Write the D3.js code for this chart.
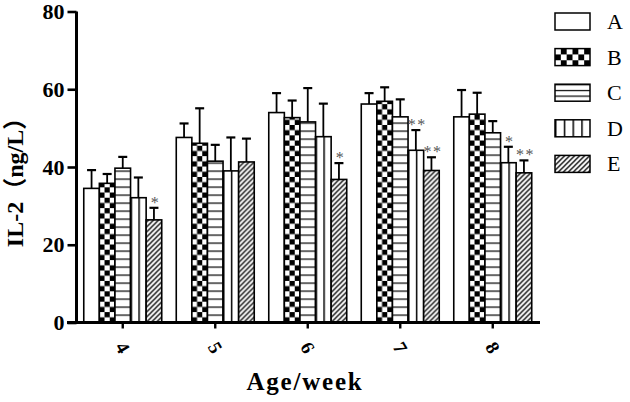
<!DOCTYPE html>
<html>
<head>
<meta charset="utf-8">
<script src="https://cdn.jsdelivr.net/npm/d3@7"></script>
<style>
  html, body { margin: 0; padding: 0; background: #fff; }
  svg { display: block; }
</style>
</head>
<body>
<div id="chart"></div>
<script>
// ---- data ----
const weeks = ["4", "5", "6", "7", "8"];
const groups = ["A", "B", "C", "D", "E"];
const yTicks = [0, 20, 40, 60, 80];

const meanA = [34.5, 47.6, 54.0, 56.2, 52.9];
const meanB = [35.8, 46.1, 52.7, 56.9, 53.6];
const meanC = [39.7, 41.5, 51.6, 52.9, 48.8];
const meanD = [32.1, 39.0, 47.8, 44.3, 41.1];
const meanE = [26.4, 41.3, 36.8, 39.1, 38.5];

const sdA = [4.7, 3.6, 5.0, 2.8, 6.9];
const sdB = [2.4, 9.0, 4.4, 3.6, 5.5];
const sdC = [2.9, 4.2, 8.7, 4.5, 3.0];
const sdD = [5.2, 8.6, 8.5, 5.2, 4.1];
const sdE = [3.1, 6.0, 4.2, 3.4, 3.2];

const sigA = ["", "", "", "", ""];
const sigB = ["", "", "", "", ""];
const sigC = ["", "", "", "", ""];
const sigD = ["", "", "", "**", "*"];
const sigE = ["*", "", "*", "**", "**"];

const yTitle = "IL-2（ng/L）";
const xTitle = "Age/week";

// ---- build table ----
const means = [meanA, meanB, meanC, meanD, meanE];
const sds = [sdA, sdB, sdC, sdD, sdE];
const sigs = [sigA, sigB, sigC, sigD, sigE];
const rows = [];
weeks.forEach((w, i) => {
  groups.forEach((g, j) => {
    rows.push({ week: w, group: g, gi: j, wi: i, mean: means[j][i], sd: sds[j][i], sig: sigs[j][i] });
  });
});

// ---- layout ----
const W = 630, H = 402;
const serif = "'Liberation Serif', 'Times New Roman', serif";
const svg = d3.select("#chart").append("svg").attr("width", W).attr("height", H);

const x = d3.scaleBand().domain(weeks).range([76.5, 539]).paddingInner(0.157).paddingOuter(0.0785);
const xs = d3.scaleBand().domain(groups).range([0, x.bandwidth()]);
const y = d3.scaleLinear().domain([0, 80]).range([322.5, 11.5]);

const defs = svg.append("defs");

// pattern factories (tile origin aligned to given x, y)
function makePattern(id, kind, ox, oy, bw, bh) {
  const p = defs.append("pattern").attr("id", id).attr("patternUnits", "userSpaceOnUse");
  if (kind === "B") {
    const s = bw / 3;
    p.attr("x", ox).attr("y", oy).attr("width", 2 * s).attr("height", 2 * s);
    p.append("rect").attr("width", 2 * s).attr("height", 2 * s).attr("fill", "#fff");
    p.append("rect").attr("x", s).attr("y", 0).attr("width", s).attr("height", s).attr("fill", "#000");
    p.append("rect").attr("x", 0).attr("y", s).attr("width", s).attr("height", s).attr("fill", "#000");
  } else if (kind === "C") {
    const s = bh;
    p.attr("x", ox).attr("y", oy).attr("width", 10).attr("height", s);
    p.append("rect").attr("width", 10).attr("height", s).attr("fill", "#fff");
    p.append("line").attr("x1", 0).attr("x2", 10).attr("y1", 0).attr("y2", 0).attr("stroke", "#000").attr("stroke-width", 2.4);
  } else if (kind === "D") {
    const s = bw;
    p.attr("x", ox).attr("y", oy).attr("width", s).attr("height", 10);
    p.append("rect").attr("width", s).attr("height", 10).attr("fill", "#fff");
    p.append("line").attr("x1", 0).attr("x2", 0).attr("y1", 0).attr("y2", 10).attr("stroke", "#000").attr("stroke-width", 3);
  } else if (kind === "E") {
    const s = 5;
    p.attr("x", ox).attr("y", oy).attr("width", s).attr("height", s);
    p.append("rect").attr("width", s).attr("height", s).attr("fill", "#fff");
    p.append("path").attr("d", `M${-1},${1} L${1},${-1} M0,${s} L${s},0 M${s - 1},${s + 1} L${s + 1},${s - 1}`)
      .attr("stroke", "#000").attr("stroke-width", 1.3);
  }
  return `url(#${id})`;
}

function fillFor(d, idx) {
  const bx = x(d.week) + xs(d.group);
  const bw = xs.bandwidth();
  if (d.group === "A") return "#fff";
  if (d.group === "B") return makePattern("pb" + idx, "B", bx, y(0), bw);
  if (d.group === "C") return makePattern("pc" + idx, "C", bx, y(0), bw, 8);
  if (d.group === "D") return makePattern("pd" + idx, "D", bx + bw / 2, y(0), bw / 2);
  if (d.group === "E") return makePattern("pe" + idx, "E", bx, y(0), bw);
}

// ---- bars ----
const gBars = svg.append("g");
gBars.selectAll("rect.bar").data(rows).join("rect")
  .attr("class", "bar")
  .attr("x", d => x(d.week) + xs(d.group))
  .attr("y", d => y(d.mean))
  .attr("width", xs.bandwidth())
  .attr("height", d => y(0) - y(d.mean))
  .attr("fill", (d, i) => fillFor(d, i))
  .attr("stroke", "#000")
  .attr("stroke-width", 1.6);

// ---- error bars (upper only) ----
const cx = d => x(d.week) + xs(d.group) + xs.bandwidth() / 2;
const gErr = svg.append("g").attr("stroke", "#000").attr("stroke-width", 1.8);
gErr.selectAll("line.v").data(rows).join("line")
  .attr("x1", cx).attr("x2", cx)
  .attr("y1", d => y(d.mean)).attr("y2", d => y(d.mean + d.sd));
gErr.selectAll("line.cap").data(rows).join("line")
  .attr("x1", d => cx(d) - 4.5).attr("x2", d => cx(d) + 4.5)
  .attr("y1", d => y(d.mean + d.sd)).attr("y2", d => y(d.mean + d.sd))
  .attr("stroke-width", 2.2);

// ---- significance marks ----
svg.append("g").selectAll("text").data(rows.filter(d => d.sig)).join("text")
  .attr("x", d => cx(d) + 1.5)
  .attr("y", d => y(d.mean + d.sd) + 0)
  .attr("text-anchor", "middle")
  .attr("font-family", serif)
  .attr("font-size", 16)
  .attr("letter-spacing", 1.5)
  .attr("fill", "#555")
  .text(d => d.sig);

// ---- axes ----
const yAxis = svg.append("g").attr("transform", "translate(76.5,0)")
  .call(d3.axisLeft(y).tickValues(yTicks).tickSize(9).tickPadding(3));
yAxis.select(".domain").attr("stroke-width", 3).attr("d", `M0,${y(80)}V${y(0)}`);
yAxis.selectAll(".tick line").attr("stroke-width", 2.6);
yAxis.selectAll(".tick text")
  .attr("font-family", serif).attr("font-weight", "bold").attr("font-size", 22).attr("fill", "#000");

const xAxis = svg.append("g").attr("transform", `translate(0,${y(0)})`)
  .call(d3.axisBottom(x).tickSize(6).tickPadding(0));
xAxis.select(".domain").attr("stroke-width", 3).attr("d", `M67,0H540`);
xAxis.selectAll(".tick line").attr("stroke-width", 2.4);
xAxis.selectAll(".tick text")
  .attr("font-family", serif).attr("font-weight", "bold").attr("font-size", 19).attr("fill", "#000")
  .attr("y", 0).attr("dy", null)
  .attr("dominant-baseline", "central")
  .attr("text-anchor", "middle")
  .attr("transform", "translate(0,25) rotate(60)");

// ---- axis titles ----
svg.append("text")
  .attr("x", 305).attr("y", 390)
  .attr("text-anchor", "middle")
  .attr("font-family", serif).attr("font-weight", "bold").attr("font-size", 25)
  .attr("letter-spacing", 1.8)
  .text(xTitle);

svg.append("text")
  .attr("transform", "translate(23,176.5) rotate(-90)")
  .attr("text-anchor", "middle")
  .attr("font-family", serif + ", 'Noto Sans CJK SC'").attr("font-weight", "bold").attr("font-size", 24)
  .text(yTitle);

// ---- legend ----
const legY = d3.scaleBand().domain(groups).range([13, 191]);
const legend = svg.append("g");
const bw = 35, bh = 17, lx = 555;
groups.forEach((g, j) => {
  const ty = legY(g);
  let fill = "#fff";
  if (g === "B") fill = makePattern("lb", "B", lx, ty, 17.5);
  if (g === "C") fill = makePattern("lc", "C", lx, ty, bw, bh / 3);
  if (g === "D") fill = makePattern("ld", "D", lx, ty, bw / 4);
  if (g === "E") fill = makePattern("le", "E", lx, ty, bw);
  legend.append("rect").attr("x", lx).attr("y", ty).attr("width", bw).attr("height", bh)
    .attr("fill", fill).attr("stroke", "#000").attr("stroke-width", 1.5);
  legend.append("text").attr("x", 607).attr("y", ty + bh / 2)
    .attr("dominant-baseline", "central")
    .attr("font-family", serif).attr("font-size", 22)
    .text(g);
});
</script>
</body>
</html>
